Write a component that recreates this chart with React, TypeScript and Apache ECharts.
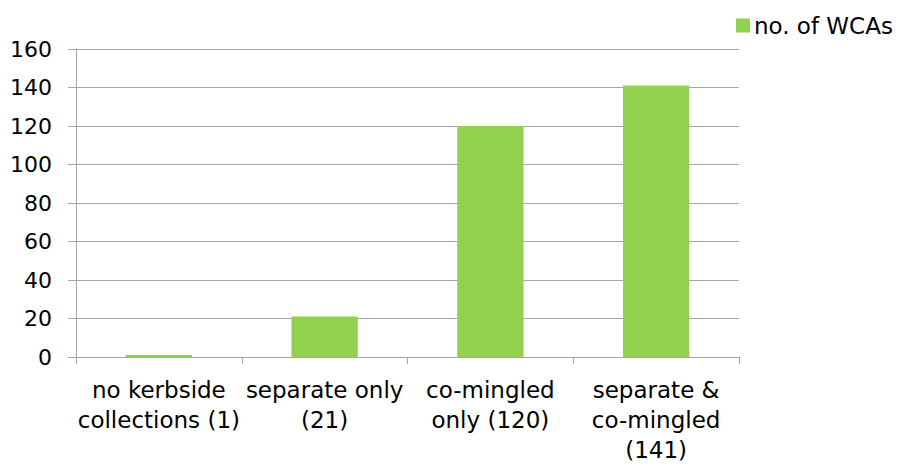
import React, { useEffect, useRef } from "react";
import * as echarts from "echarts";

const categories = [
  "no kerbside\ncollections (1)",
  "separate only\n(21)",
  "co-mingled\nonly (120)",
  "separate &\nco-mingled\n(141)",
];
const seriesName = "no. of WCAs";
const values = [1, 21, 120, 141];
const yMin = 0;
const yMax = 160;
const yInterval = 20;

const FONT = "DejaVu Sans";
const GRAY = "#a6a6a6";

export default function App() {
  const ref = useRef<HTMLDivElement>(null);
  useEffect(() => {
    if (!ref.current) return;
    const chart = echarts.init(ref.current, null, { renderer: "svg" });
    chart.setOption({
      animation: false,
      backgroundColor: "#ffffff",
      textStyle: { fontFamily: FONT },
      legend: {
        left: 731,
        top: 9,
        itemWidth: 14,
        itemHeight: 14,
        itemGap: 4,
        icon: "rect",
        textStyle: { fontFamily: FONT, fontSize: 23, color: "#000", padding: [0, 0, 0, -1] },
        data: [seriesName],
      },
      grid: { left: 76, right: 165, top: 49, bottom: 109, containLabel: false },
      xAxis: {
        type: "category",
        data: categories,
        boundaryGap: true,
        axisLine: { show: true, lineStyle: { color: GRAY, width: 1 } },
        axisTick: { show: true, length: 7, interval: 0, lineStyle: { color: GRAY } },
        axisLabel: {
          interval: 0,
          margin: 18,
          fontFamily: FONT,
          fontSize: 23,
          lineHeight: 30,
          color: "#000",
          align: "center",
        },
      },
      yAxis: {
        type: "value",
        min: yMin,
        max: yMax,
        interval: yInterval,
        axisLine: { show: true, lineStyle: { color: GRAY, width: 1 } },
        axisTick: { show: true, length: 8, lineStyle: { color: GRAY } },
        splitLine: { show: true, lineStyle: { color: GRAY, width: 1 } },
        axisLabel: { margin: 24, fontFamily: FONT, fontSize: 22, color: "#000" },
      },
      series: [
        {
          name: seriesName,
          type: "bar",
          data: values,
          barWidth: "40%",
          itemStyle: { color: "#92d050" },
        },
      ],
    });
    return () => chart.dispose();
  }, []);
  return (
    <div
      ref={ref}
      style={{ position: "fixed", left: 0, top: 0, width: 904, height: 466 }}
    />
  );
}
